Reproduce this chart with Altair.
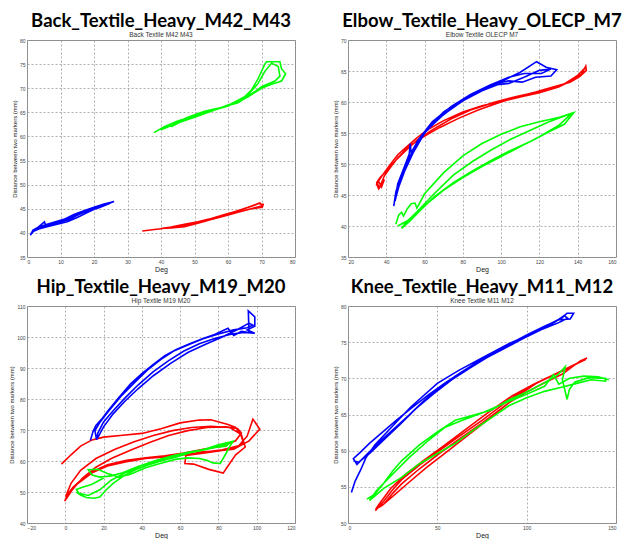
import altair as alt
import pandas as pd

# ---------------- Data ----------------
TITLES = ["Back_Textile_Heavy_M42_M43", "Elbow_Textile_Heavy_OLECP_M7",
          "Hip_Textile_Heavy_M19_M20", "Knee_Textile_Heavy_M11_M12"]
SUBTITLES = ["Back Textile M42 M43", "Elbow Textile OLECP M7",
             "Hip Textile M19 M20", "Knee Textile M11 M12"]
X_TICKS = [[0, 10, 20, 30, 40, 50, 60, 70, 80],
           [20, 40, 60, 80, 100, 120, 140, 160],
           [-20, 0, 20, 40, 60, 80, 100, 120],
           [0, 50, 100, 150]]
Y_TICKS = [[35, 40, 45, 50, 55, 60, 65, 70, 75, 80],
           [35, 40, 45, 50, 55, 60, 65, 70],
           [40, 50, 60, 70, 80, 90, 100, 110],
           [50, 55, 60, 65, 70, 75, 80]]

# Back
BACK_BLUE_X = [1.0, 1.8, 3.0, 5.2, 5.5, 8.0, 11.0, 14.0, 17.0, 20.0, 23.0, 26.0, 24.0, 21.0, 18.0, 15.0, 12.0, 9.0, 6.0, 3.5, 1.5, 1.0, 2.5, 5.0, 8.0, 11.0, 14.5, 18.0, 21.5, 25.0, 22.5, 19.0, 15.5, 12.5, 9.5, 6.5, 4.0, 2.0, 1.2]
BACK_BLUE_Y = [39.5, 40.6, 41.0, 42.3, 41.7, 42.2, 42.8, 43.8, 44.6, 45.3, 46.0, 46.5, 46.0, 45.2, 44.2, 43.2, 42.3, 41.8, 41.3, 40.8, 40.2, 39.6, 40.9, 41.6, 42.0, 42.6, 43.6, 44.5, 45.2, 46.2, 45.6, 44.8, 43.8, 42.8, 42.2, 41.6, 41.1, 40.4, 39.7]
BACK_RED_X = [34.4, 38, 42, 46, 50, 54, 58, 62, 66, 69, 70.5, 70.2, 67, 63, 59, 55, 51, 47, 43, 40, 43, 47, 51, 55, 59, 63, 67, 69.5, 70.3, 68, 64, 60, 56, 52, 48]
BACK_RED_Y = [40.4, 40.7, 41.0, 41.5, 42.0, 42.7, 43.6, 44.4, 45.3, 46.1, 45.9, 45.3, 45.0, 44.3, 43.5, 42.8, 42.0, 41.3, 41.0, 40.9, 41.2, 41.8, 42.3, 43.0, 43.8, 44.6, 45.5, 46.2, 45.6, 45.2, 44.5, 43.8, 43.0, 42.4, 41.6]
BACK_GREEN_X = [37.9, 41, 45, 50, 55, 60, 64, 67, 69, 71, 71.5, 75.5, 76, 77.2, 76, 73, 70, 66, 62, 58, 54, 50, 46, 43, 44, 48, 53, 58, 63, 67, 70, 74, 75.5, 75, 73, 71, 69, 66, 61, 55, 50, 45, 40]
BACK_GREEN_Y = [60.8, 62.0, 63.2, 64.3, 65.3, 66.3, 67.6, 69.6, 72.0, 75.0, 75.5, 75.5, 74.0, 73.0, 71.5, 70.8, 70.0, 68.2, 66.8, 66.0, 65.3, 64.2, 63.1, 62.0, 62.7, 64.0, 65.2, 66.0, 67.0, 68.8, 70.3, 71.5, 72.5, 74.5, 75.2, 73.5, 71.0, 68.6, 66.8, 65.2, 64.0, 62.8, 61.4]

# Elbow
ELBOW_BLUE_X = [43.9, 45.0, 46.8, 49.0, 52.0, 52.5, 53.0, 56.5, 61.5, 70, 80, 90, 100, 110, 118.5, 123.5, 129, 126, 118, 111, 104, 97, 88, 78, 68, 60, 54, 49.5, 46.5, 45.0, 44.6, 46, 48.5, 52, 57, 64, 74, 84, 94, 104, 112, 121, 126, 120, 112, 104, 98, 90, 80, 70, 61, 54, 49, 46, 44.5]
ELBOW_BLUE_Y = [43.2, 45.5, 47.3, 49.2, 51.6, 53.3, 51.8, 53.8, 55.8, 58.4, 60.4, 62.0, 63.3, 64.8, 66.5, 65.6, 65.2, 64.2, 64.0, 63.2, 63.4, 63.0, 61.6, 59.9, 57.5, 55.0, 51.8, 48.8, 46.3, 44.6, 44.0, 46.5, 48.5, 51.0, 54.0, 56.8, 59.3, 61.2, 62.7, 64.0, 64.6, 64.6, 65.3, 65.1, 64.0, 63.0, 62.8, 61.8, 60.2, 58.0, 55.4, 52.2, 49.2, 46.8, 44.2]
ELBOW_RED_X = [34.7, 36.0, 37.5, 39.0, 36.0, 35.0, 38, 42, 46, 50, 56, 62, 70, 80, 90, 100, 110, 120, 130, 138, 142, 144.2, 144.5, 141, 136, 128, 118, 108, 98, 88, 78, 68, 60, 52, 46, 42, 39, 36.5, 35.0, 37, 41, 45, 50, 56, 64, 74, 84, 96, 108, 120, 132, 140, 143.5]
ELBOW_RED_Y = [46.5, 47.2, 46.3, 47.5, 46.0, 46.8, 48.2, 49.9, 51.5, 52.6, 54.2, 55.6, 57.0, 58.4, 59.4, 60.1, 60.8, 61.5, 62.4, 63.6, 64.5, 65.8, 65.1, 64.1, 63.2, 62.5, 61.6, 60.8, 59.8, 58.7, 57.4, 55.9, 54.5, 52.9, 51.0, 49.4, 48.1, 46.2, 47.0, 47.9, 49.2, 50.6, 52.1, 53.8, 55.5, 57.3, 58.7, 59.9, 60.9, 61.7, 62.7, 64.3, 65.4]
ELBOW_GREEN_X = [45, 46.5, 48, 49, 51, 53, 55, 56, 60, 70, 80, 90, 100, 110, 120, 130, 138, 133, 125, 115, 105, 95, 85, 75, 65, 58, 52, 48, 50, 56, 65, 75, 85, 95, 105, 115, 125, 137, 130, 120, 110, 100, 90, 80, 70, 60, 52, 46]
ELBOW_GREEN_Y = [40.3, 41.8, 42.2, 41.6, 42.8, 43.6, 43.7, 42.9, 45.2, 48.6, 51.3, 53.3, 54.8, 56.0, 56.8, 57.5, 58.3, 56.4, 55.2, 53.6, 52.2, 50.6, 48.9, 47.0, 44.7, 42.6, 40.7, 39.6, 40.5, 42.3, 45.2, 48.2, 50.4, 52.3, 54.0, 55.4, 56.8, 58.2, 56.2, 54.4, 52.8, 51.2, 49.6, 47.8, 45.8, 43.3, 41.0, 40.0]

# Hip
HIP_BLUE_X = [13.1, 14.5, 16, 19, 22, 28, 34, 40, 46, 52, 58, 65, 72, 78, 85, 88, 92, 96, 95.6, 99, 99, 95, 99, 93, 86, 78, 70, 62, 54, 46, 38, 31, 25, 20, 17, 16.3, 15.5, 18, 23, 29, 36, 43, 50, 57, 64, 72, 80, 88, 95, 98, 96, 90, 82, 73, 64, 55, 46, 38, 31, 25, 20, 16.5]
HIP_BLUE_Y = [66.6, 69.5, 71.5, 73.5, 76.0, 80.5, 84.8, 88.2, 91.2, 94.0, 96.0, 97.8, 99.5, 100.8, 102.8, 100.5, 101.8, 101.4, 108.4, 106.5, 103.5, 102.3, 101.2, 101.5, 100.8, 99.5, 97.8, 95.5, 92.4, 88.8, 84.5, 80.2, 76.2, 72.6, 69.0, 66.9, 69.8, 72.4, 76.4, 80.8, 85.2, 89.4, 92.8, 95.6, 97.4, 99.4, 101.0, 102.3, 103.0, 103.8, 104.5, 102.4, 100.0, 97.6, 95.0, 91.5, 87.5, 83.3, 79.2, 75.2, 71.0, 67.0]
HIP_RED_X = [-2, 3, 8, 14, 20, 30, 40, 50, 60, 70, 76, 85, 89, 92, 93, 90, 82, 72, 62, 52, 42, 32, 22, 14, 6, 0.5, -0.3, 4, 9, 16, 24, 34, 44, 54, 64, 74, 84, 90, 92, 89, 82, 72, 62, 52, 42, 32, 22, 12, 4, 0.2, 3, 8, 16, 26, 36, 46, 56, 66, 76, 86, 92, 94, 89, 84, 82.5, 75, 67, 62.5, 63, 72, 82, 90, 95, 98, 101.6, 96, 88, 78, 68]
HIP_RED_Y = [59.0, 62.0, 64.8, 66.8, 67.7, 68.3, 68.9, 70.4, 72.3, 73.2, 73.3, 71.8, 70.8, 68.0, 66.0, 64.8, 63.6, 62.8, 62.0, 61.3, 60.8, 59.8, 58.4, 56.2, 52.5, 48.2, 47.1, 51.0, 54.5, 58.0, 60.8, 63.5, 66.0, 68.2, 69.8, 70.8, 71.0, 70.5, 69.0, 66.5, 64.8, 63.8, 62.6, 61.7, 61.0, 60.2, 58.8, 56.0, 51.5, 48.5, 52.8, 57.0, 60.8, 63.8, 66.2, 68.2, 69.8, 70.8, 71.2, 70.8, 68.5, 64.5, 62.0, 57.5, 56.1, 57.3, 59.0, 59.2, 61.8, 62.5, 63.4, 64.5, 68.0, 73.5, 70.3, 66.5, 63.8, 63.2, 62.8]
HIP_GREEN_X = [5.8, 8, 11, 15, 18, 21, 25, 30, 36, 42, 50, 58, 66, 74, 80, 87.7, 86, 84, 81, 77, 74, 70, 64, 58, 50, 42, 34, 28, 22, 17, 12, 14, 18, 24, 30, 38, 46, 54, 62, 70, 78, 84, 86, 80, 72, 64, 56, 48, 40, 32, 24, 18, 12, 7, 5.8, 9, 14, 20]
HIP_GREEN_Y = [50.0, 49.0, 48.2, 48.0, 48.4, 50.5, 52.8, 55.0, 57.0, 58.5, 60.0, 61.3, 62.8, 64.0, 65.2, 66.4, 64.8, 62.5, 59.2, 59.4, 60.2, 60.8, 61.0, 60.6, 59.3, 57.8, 55.7, 54.8, 56.0, 57.3, 57.2, 55.5, 54.8, 55.2, 56.2, 58.2, 59.8, 61.2, 62.3, 63.2, 64.4, 64.8, 66.0, 64.6, 63.6, 62.8, 61.7, 60.3, 58.6, 56.4, 53.8, 50.7, 48.9, 49.6, 50.8, 51.5, 52.5, 54.5]

# Knee
KNEE_BLUE_X = [1.9, 4, 7, 10, 15, 25, 35, 50, 62, 75, 90, 100, 113, 120, 122.6, 126.3, 124.4, 118, 110, 100, 90, 80, 70, 60, 50, 42, 34, 26, 18, 11, 5, 3, 7, 12, 19, 27, 36, 45, 54, 63, 72, 82, 92, 102, 110, 116, 121, 123, 117, 108, 98, 88, 78, 68, 58, 48, 38, 29, 20, 12, 6, 3]
KNEE_BLUE_Y = [54.2, 55.8, 57.3, 59.0, 60.8, 63.4, 66.0, 69.3, 71.1, 72.8, 74.8, 75.9, 77.5, 78.4, 79.0, 79.0, 78.2, 78.1, 77.2, 76.0, 74.7, 73.4, 71.9, 70.3, 68.5, 66.8, 64.9, 63.1, 61.3, 59.6, 58.1, 58.9, 59.8, 61.0, 62.5, 64.2, 66.0, 67.7, 69.3, 70.8, 72.2, 73.6, 74.9, 76.1, 77.0, 77.8, 78.7, 78.3, 77.6, 76.7, 75.5, 74.2, 72.9, 71.4, 69.8, 67.9, 65.8, 63.6, 61.5, 59.6, 58.4, 58.6]
KNEE_RED_X = [15.3, 20, 25, 30, 40, 50, 60, 75, 90, 100, 110, 120, 130, 133.8, 130, 120, 110, 100, 90, 75, 60, 50, 40, 30, 25, 20, 15.5, 18, 24, 32, 42, 52, 64, 78, 92, 104, 116, 126, 133, 128, 118, 106, 94, 80, 66, 54, 44, 34, 26, 19, 15.3]
KNEE_RED_Y = [51.7, 53.0, 54.6, 56.0, 58.0, 59.8, 61.6, 64.2, 67.0, 68.6, 69.9, 71.0, 72.3, 72.8, 72.4, 70.6, 69.4, 68.1, 66.6, 63.8, 61.2, 59.4, 57.5, 55.4, 54.1, 52.6, 51.9, 52.8, 54.8, 56.7, 58.6, 60.4, 62.6, 65.2, 67.6, 69.2, 70.6, 71.8, 72.6, 72.0, 70.8, 69.4, 67.4, 64.6, 61.9, 59.6, 57.7, 55.6, 53.9, 52.4, 51.9]
KNEE_GREEN_X = [10.6, 15, 20, 25, 30, 40, 50, 60, 70, 80, 90, 100, 110, 117, 121.6, 120, 122.6, 124, 127, 135, 144, 144.2, 136, 128, 120, 110, 100, 90, 80, 70, 60, 50, 40, 30, 20, 12, 16, 24, 34, 44, 54, 64, 76, 88, 100, 110, 115, 118, 124, 132, 140, 146]
KNEE_GREEN_Y = [53.3, 54.0, 55.5, 57.2, 58.6, 60.8, 62.6, 64.2, 64.9, 65.6, 67.0, 68.1, 69.4, 70.4, 71.6, 69.8, 67.1, 68.5, 69.5, 70.1, 70.0, 69.6, 69.8, 69.3, 68.8, 68.2, 67.3, 66.2, 64.5, 62.8, 61.0, 59.6, 58.2, 56.3, 54.8, 53.1, 54.5, 56.5, 59.0, 61.2, 63.2, 64.2, 65.3, 66.6, 67.8, 68.9, 70.5, 69.2, 70.0, 70.3, 70.2, 69.8]

PANELS = [
    {"blue": (BACK_BLUE_X, BACK_BLUE_Y), "red": (BACK_RED_X, BACK_RED_Y), "green": (BACK_GREEN_X, BACK_GREEN_Y)},
    {"blue": (ELBOW_BLUE_X, ELBOW_BLUE_Y), "red": (ELBOW_RED_X, ELBOW_RED_Y), "green": (ELBOW_GREEN_X, ELBOW_GREEN_Y)},
    {"blue": (HIP_BLUE_X, HIP_BLUE_Y), "red": (HIP_RED_X, HIP_RED_Y), "green": (HIP_GREEN_X, HIP_GREEN_Y)},
    {"blue": (KNEE_BLUE_X, KNEE_BLUE_Y), "red": (KNEE_RED_X, KNEE_RED_Y), "green": (KNEE_GREEN_X, KNEE_GREEN_Y)},
]
COLORS = {"red": "#ff0000", "blue": "#0000ff", "green": "#00ff00"}
DRAW_ORDER = ["red", "blue", "green"]

W, H = 268, 217


def panel(k):
    xt, yt = X_TICKS[k], Y_TICKS[k]
    layers = []
    for name in DRAW_ORDER:
        xs, ys = PANELS[k][name]
        df = pd.DataFrame({"x": xs, "y": ys, "i": list(range(len(xs)))})
        layers.append(
            alt.Chart(df).mark_line(color=COLORS[name], strokeWidth=1.6, clip=True).encode(
                x=alt.X("x:Q", scale=alt.Scale(domain=[xt[0], xt[-1]], nice=False, zero=False),
                        axis=alt.Axis(values=xt, title="Deg", format="d")),
                y=alt.Y("y:Q", scale=alt.Scale(domain=[yt[0], yt[-1]], nice=False, zero=False),
                        axis=alt.Axis(values=yt, title="Distance between two markers (mm)", format="d")),
                order="i:Q",
            )
        )
    return alt.layer(*layers).properties(
        width=W, height=H,
        title=alt.TitleParams(
            text=TITLES[k], subtitle=SUBTITLES[k],
            fontSize=18.5, font="Lato", fontWeight="bold", color="#000000",
            subtitleFontSize=6.5, subtitleFont="Arial", subtitleColor="#333333",
            subtitlePadding=1.5, offset=0, anchor="middle",
        ),
    )


top = alt.hconcat(panel(0), panel(1), spacing=35)
bottom = alt.hconcat(panel(2), panel(3), spacing=35)
chart = alt.vconcat(top, bottom, spacing=4).properties(
    padding={"top": 3, "left": 0, "right": 0, "bottom": 0}
).configure_view(
    stroke="#888888", strokeWidth=1
).configure_axis(
    labelFontSize=5, labelColor="#444444", labelFont="Arial", labelPadding=2,
    titleFontSize=6, titleFont="Arial", titleFontWeight="normal", titleColor="#222222", titlePadding=2,
    ticks=False, domain=False,
    grid=True, gridColor="#9a9a9a", gridDash=[2, 2], gridWidth=0.8,
).configure_axisX(titleFontSize=7, titlePadding=1)

chart.save("out.html", embed_options={"renderer": "svg", "actions": False})
